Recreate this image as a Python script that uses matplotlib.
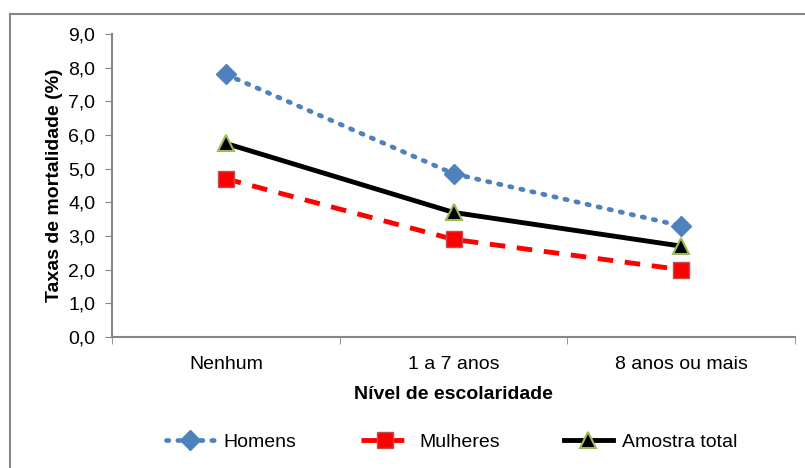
import matplotlib.pyplot as plt
from matplotlib.lines import Line2D
from matplotlib.ticker import FuncFormatter, FixedLocator

plt.rcParams['font.family'] = ['Liberation Sans', 'DejaVu Sans']

# Data
categorias = ['Nenhum', '1 a 7 anos', '8 anos ou mais']
homens = [7.8, 4.85, 3.3]
mulheres = [4.7, 2.9, 2.0]
amostra_total = [5.75, 3.7, 2.7]

fig = plt.figure(figsize=(8.05, 4.68), dpi=100)
ax = fig.add_axes([112 / 805, 1 - 337 / 468, (795 - 112) / 805, (337 - 34) / 468])

x = list(range(len(categorias)))
ax.plot(x, homens, color='#4F81BD', linestyle=(0, (0.5, 1.9)), linewidth=3.4,
        dash_capstyle='round', marker='D', markersize=10, markeredgecolor='#4F81BD',
        label='Homens')
ax.plot(x, mulheres, color='#FF0000', linestyle=(0, (3.2, 2.4)), linewidth=3.5,
        marker='s', markersize=12, markerfacecolor='#FF0000', markeredgecolor='#C0504D',
        label='Mulheres')
ax.plot(x, amostra_total, color='black', linewidth=3.5, marker='^', markersize=11,
        markerfacecolor='black', markeredgecolor='#9BBB59', markeredgewidth=1.5,
        label='Amostra total', zorder=3)

# Axes
ax.set_xlim(-0.5, 2.5)
ax.set_ylim(0, 9)
ax.set_yticks([i for i in range(10)])
ax.yaxis.set_major_formatter(FuncFormatter(lambda v, p: f'{v:.1f}'.replace('.', ',')))
ax.set_xticks(x)
ax.set_xticklabels(categorias)
ax.xaxis.set_minor_locator(FixedLocator([-0.5, 0.5, 1.5, 2.5]))
ax.tick_params(axis='x', which='major', length=0, pad=14, labelsize=14)
ax.tick_params(axis='x', which='minor', length=5, direction='out', color='#868686')
ax.tick_params(axis='y', length=5, direction='out', color='#868686', labelsize=14, pad=7)

for side in ['top', 'right']:
    ax.spines[side].set_visible(False)
for side in ['left', 'bottom']:
    ax.spines[side].set_color('#868686')
    ax.spines[side].set_linewidth(1.5)

ax.set_xlabel('Nível de escolaridade', fontsize=14, fontweight='bold', labelpad=9)
ax.set_ylabel('Taxas de mortalidade (%)', fontsize=14, fontweight='bold', labelpad=4)

# Legend
fig.legend(loc='center left', bbox_to_anchor=(148 / 805, 1 - 442 / 468), ncol=3,
           frameon=False, fontsize=14, numpoints=1, handlelength=2.5,
           handletextpad=0.5, columnspacing=3.3)

# Chart border
fig.add_artist(Line2D([10 / 805, 10 / 805], [0, 1 - 14 / 468], color='#868686', linewidth=1.5))
fig.add_artist(Line2D([10 / 805, 1], [1 - 14 / 468, 1 - 14 / 468], color='#868686', linewidth=1.5))

fig.savefig('out.png', dpi=100)
